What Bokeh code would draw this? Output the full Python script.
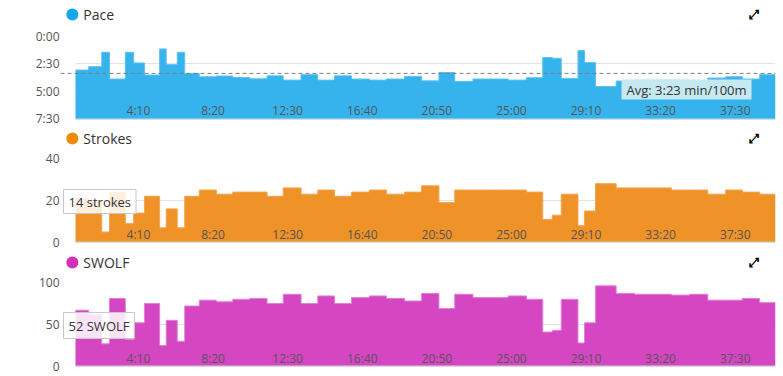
from bokeh.plotting import figure
from bokeh.layouts import column
from bokeh.models import Range1d, FixedTicker, Span, Label, BoxAnnotation
from bokeh.core.properties import value
from bokeh.embed import file_html
from bokeh.resources import INLINE

# ---- data (elapsed seconds) ----
start_time = 39
length_end = [83, 127, 153, 206, 234, 270, 321, 343, 380, 405,
              454, 511, 566, 623, 681, 735, 795, 851, 907, 964,
              1024, 1081, 1142, 1199, 1257, 1310, 1371, 1430, 1489, 1550,
              1605, 1637, 1667, 1723, 1745, 1782, 1851, 1913, 1974, 2036,
              2097, 2158, 2218, 2274, 2332, 2385]
# pace in seconds per 100 m
pace = [185, 167, 90, 233, 90, 147, 212, 72, 156, 90,
        203, 221, 217, 225, 232, 216, 239, 210, 239, 216,
        233, 239, 233, 219, 243, 198, 246, 233, 233, 239,
        226, 118, 122, 230, 81, 145, 273, 244, 240, 240,
        240, 244, 228, 221, 233, 210]
strokes = [21, 20, 5, 24, 9, 14, 22, 7, 16, 7,
           22, 25, 23, 24, 24, 22, 26, 23, 25, 22,
           24, 25, 23, 24, 27, 19, 25, 25, 25, 25,
           24, 11, 13, 23, 8, 15, 28, 26, 26, 26,
           25, 25, 23, 25, 24, 23]
swolf = [67, 62, 27, 81, 32, 52, 75, 25, 55, 30,
         72, 79, 77, 80, 81, 75, 86, 75, 84, 75,
         82, 84, 81, 78, 87, 69, 86, 82, 82, 84,
         80, 41, 43, 80, 28, 52, 96, 87, 86, 86,
         85, 86, 79, 79, 81, 76]

x_ticks = [250, 500, 750, 1000, 1250, 1500, 1750, 2000, 2250]
x_tick_labels = ["4:10", "8:20", "12:30", "16:40", "20:50", "25:00", "29:10", "33:20", "37:30"]

pace_ticks = [0, 150, 300, 450]
pace_tick_labels = ["0:00", "2:30", "5:00", "7:30"]
strokes_ticks = [0, 20, 40]
strokes_tick_labels = ["0", "20", "40"]
swolf_ticks = [0, 50, 100]
swolf_tick_labels = ["0", "50", "100"]

avg_pace = 203
avg_pace_text = "Avg: 3:23 min/100m"
strokes_tip = "14 strokes"
swolf_tip = "52 SWOLF"

FONT = "Open Sans"
W = 783
LEFT = 60          # frame starts here (axis labels live left of it)
PLOT_LEFT = 75     # where the time axis begins
RIGHT = 8
SEC_PER_PX = (length_end[-1] - start_time) / (W - RIGHT - PLOT_LEFT)
x_lo = start_time - (PLOT_LEFT - LEFT) * SEC_PER_PX


def header(name, dot, height, cy):
    h = figure(width=W, height=height, x_range=Range1d(0, W),
               y_range=Range1d(height, 0), toolbar_location=None,
               output_backend="svg", min_border=0)
    h.axis.visible = False
    h.grid.visible = False
    h.outline_line_color = None
    h.scatter(x=[13], y=[cy], size=12, marker="circle", fill_color=dot,
              line_color=None)
    h.text(x=[25], y=[cy], text=[name], text_font=value(FONT),
           text_font_size="14px", text_color="#333333",
           text_align="left", text_baseline="middle")
    h.text(x=[760], y=[cy], text=["\u2922"], text_font=value("DejaVu Sans"),
           text_font_size="13px", text_font_style="bold", text_color="#000000",
           text_align="center", text_baseline="middle")
    return h


def chart(vals, y_bottom, y_top, ticks, tick_labels, fill, edge,
          border_bottom, xlab_offset):
    p = figure(width=W, height=8 + 84 + border_bottom,
               x_range=Range1d(x_lo, length_end[-1]),
               y_range=Range1d(y_bottom, y_top),
               toolbar_location=None, output_backend="svg",
               min_border_left=LEFT, min_border_right=RIGHT,
               min_border_top=8, min_border_bottom=border_bottom)
    p.outline_line_color = None
    p.background_fill_color = "white"
    p.border_fill_color = "white"
    p.xaxis.visible = False
    p.xgrid.visible = False

    ax = p.yaxis[0]
    ax.ticker = FixedTicker(ticks=ticks)
    ax.major_label_overrides = {t: l for t, l in zip(ticks, tick_labels)}
    ax.axis_line_color = None
    ax.major_tick_line_color = None
    ax.minor_tick_line_color = None
    ax.major_tick_out = 0
    ax.major_tick_in = 0
    ax.major_label_standoff = 1
    ax.major_label_text_font = FONT
    ax.major_label_text_font_size = "12px"
    ax.major_label_text_color = "#555555"

    p.ygrid.ticker = FixedTicker(ticks=ticks)
    p.ygrid.grid_line_color = "#e3e3e3"
    p.ygrid.grid_line_width = 1

    # hide the grid in the strip left of the time axis
    p.add_layout(BoxAnnotation(right=start_time, fill_color="white",
                               fill_alpha=1.0, line_alpha=0.0,
                               level="underlay"))

    xs = [start_time] + length_end
    ys = list(vals) + [vals[-1]]
    p.varea_step(x=xs, y1=[y_bottom] * len(xs), y2=ys, step_mode="after",
                 fill_color=fill)
    p.step(x=xs, y=ys, mode="after", line_color=edge, line_width=1)
    p.segment(x0=[start_time], x1=[length_end[-1]], y0=[y_bottom],
              y1=[y_bottom], line_color="#c5d3e0", line_width=2)

    p.text(x=x_ticks, y=[y_bottom] * len(x_ticks), text=x_tick_labels,
           text_font=value(FONT), text_font_size="12px", text_color="#555555",
           text_align="center", text_baseline="middle", y_offset=xlab_offset)
    return p


h1 = header("Pace", "#12a8ec", 27, 14)
p1 = chart(pace, 450, 0, pace_ticks, pace_tick_labels,
           "#36b3ec", "#5cc2f0", 7, -9)
p1.add_layout(Span(location=avg_pace, dimension="width", line_color="#7f7f7f",
                   line_width=1, line_dash="4 3"))
p1.add_layout(Label(x=561, y=30, x_units="screen", y_units="screen",
                    text=avg_pace_text, text_color="#333333",
                    text_font=FONT, text_font_size="13px",
                    text_align="left", text_baseline="middle",
                    background_fill_color="#c6e8f0", background_fill_alpha=1.0,
                    padding=(5, 1)))

h2 = header("Strokes", "#f08a05", 24, 12)
p2 = chart(strokes, 0, 40, strokes_ticks, strokes_tick_labels,
           "#ef9228", "#f3a450", 8, -8)
p2.add_layout(Label(x=3, y=41, x_units="screen", y_units="screen",
                    text=strokes_tip, text_color="#333333",
                    text_font=FONT, text_font_size="13px",
                    text_align="left", text_baseline="middle",
                    background_fill_color="white", background_fill_alpha=0.85,
                    border_line_color="#c8c8c8", border_line_width=1,
                    padding=(5, 3)))

h3 = header("SWOLF", "#d42fb9", 24, 12)
p3 = chart(swolf, 0, 100, swolf_ticks, swolf_tick_labels,
           "#d546c2", "#e07fd4", 10, -8)
p3.add_layout(Label(x=3, y=41, x_units="screen", y_units="screen",
                    text=swolf_tip, text_color="#333333",
                    text_font=FONT, text_font_size="13px",
                    text_align="left", text_baseline="middle",
                    background_fill_color="white", background_fill_alpha=0.85,
                    border_line_color="#c8c8c8", border_line_width=1,
                    padding=(5, 4)))

layout = column(h1, p1, h2, p2, h3, p3, spacing=0)
open("out.html", "w").write(file_html(layout, INLINE))
